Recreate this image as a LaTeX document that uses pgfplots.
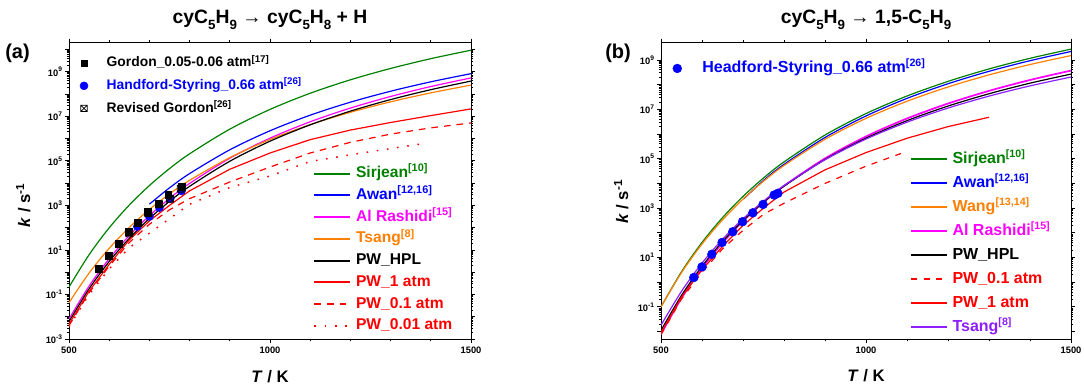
\documentclass[border=0pt]{standalone}
\usepackage{fontspec}
\setmainfont{Liberation Sans}
\usepackage{pgfplots}
\pgfplotsset{compat=1.18}
\definecolor{cgreen}{RGB}{0,128,0}
\definecolor{cblue}{RGB}{0,0,255}
\definecolor{cmag}{RGB}{255,0,255}
\definecolor{corange}{RGB}{255,128,0}
\definecolor{cred}{RGB}{255,0,0}
\definecolor{cpurple}{RGB}{140,30,255}
\newcommand\sub[1]{\raisebox{-0.32em}{\fontsize{10}{10}\selectfont #1}}
\pgfdeclareplotmark{boxx}{%
  \pgfpathrectangle{\pgfpoint{-\pgfplotmarksize}{-\pgfplotmarksize}}{\pgfpoint{2\pgfplotmarksize}{2\pgfplotmarksize}}%
  \pgfpathmoveto{\pgfpoint{-\pgfplotmarksize}{-\pgfplotmarksize}}\pgfpathlineto{\pgfpoint{\pgfplotmarksize}{\pgfplotmarksize}}%
  \pgfpathmoveto{\pgfpoint{-\pgfplotmarksize}{\pgfplotmarksize}}\pgfpathlineto{\pgfpoint{\pgfplotmarksize}{-\pgfplotmarksize}}%
  \pgfusepathqstroke}
\pgfplotsset{
  kinax/.style={
    scale only axis, xmin=500, xmax=1500,
    xtick={500,1000,1500}, xticklabels={500,1000,1500},
    minor xtick={600,700,800,900,1100,1200,1300,1400},
    tick align=outside, major tick length=3pt, minor tick length=1.8pt,
    axis line style={line width=0.7pt},
    every tick/.append style={line width=0.6pt, black},
    tick label style={font=\bfseries\fontsize{7}{8}\selectfont},
    xticklabel style={inner sep=2.5pt},
    yticklabel style={inner sep=1.5pt},
    every axis label/.append style={font=\bfseries\fontsize{12.5}{14}\selectfont},
    title style={font=\bfseries\fontsize{14.5}{17}\selectfont, at={(0.5,1)}, anchor=base, yshift=8.5pt},
    legend cell align=left,
  },
  ovax/.style={scale only axis, xmin=500, xmax=1500, hide axis, legend cell align=left},
  cv/.style={line width=0.9pt, no markers},
}
\begin{document}
\begin{tikzpicture}
%================ panel (a) =================
\begin{axis}[kinax, ymode=log, at={(0pt,0pt)}, anchor=south west, width=301.5pt, height=222.2pt,
  ymin=1e-3, ymax=2e10,
  legend image code/.code={\draw[#1, line width=1.5pt] (0pt,0pt) -- (27pt,0pt);},
  ytick={1e-3,1e-2,1e-1,1,10,100,1e3,1e4,1e5,1e6,1e7,1e8,1e9,1e10},
  yticklabels={10\textsuperscript{-3},{},10\textsuperscript{-1},{},10\textsuperscript{1},{},10\textsuperscript{3},{},10\textsuperscript{5},{},10\textsuperscript{7},{},10\textsuperscript{9},{}},
  title={cyC\sub{5}H\sub{9} → cyC\sub{5}H\sub{8} + H},
  xlabel={\textit{T} / K}, ylabel={\textit{k} / s\textsuperscript{-1}},
  xlabel style={at={(axis description cs:0.5,-0.1485)}, anchor=base},
  ylabel style={at={(axis description cs:-0.097,0.452)}, anchor=base},
  legend style={draw=none, fill=none, at={(0.608,0.587)}, anchor=north west, inner sep=0pt, outer sep=0pt,
    row sep=3.3pt, column sep=3pt,
    nodes={inner sep=0.5pt, text height=9pt, text depth=3pt, font=\bfseries\fontsize{11.7}{13}\selectfont}},
]
\addplot[cv, cgreen, smooth] coordinates {(500,2.16e-1)(550,6.08)(600,98.2)(650,1.03e3)(700,7.76e3)(750,4.46e4)(800,2.06e5)(900,2.64e6)(1000,2.03e7)(1100,1.08e8)(1200,4.33e8)(1300,1.40e9)(1400,3.85e9)(1500,9.23e9)};
\addlegendentry{\textcolor{cgreen}{Sirjean\textsuperscript{[10]}}}
\addplot[cv, cblue, smooth] coordinates {(700,1.13e3)(750,6.10e3)(800,2.67e4)(900,3.12e5)(1000,2.23e6)(1100,1.12e7)(1200,4.28e7)(1300,1.33e8)(1400,3.52e8)(1500,8.18e8)};
\addlegendentry{\textcolor{cblue}{Awan\textsuperscript{[12,16]}}}
\addplot[cv, cmag, smooth] coordinates {(500,7.94e-3)(550,0.237)(600,4.03)(650,44.2)(700,344)(750,2.04e3)(800,9.68e3)(900,1.30e5)(1000,1.04e6)(1100,5.66e6)(1200,2.33e7)(1300,7.73e7)(1400,2.16e8)(1500,5.25e8)};
\addlegendentry{\textcolor{cmag}{Al Rashidi\textsuperscript{[15]}}}
\addplot[cv, corange, smooth] coordinates {(500,4.26e-2)(550,0.914)(600,11.8)(650,103)(700,655)(750,3.27e3)(800,1.33e4)(900,1.39e5)(1000,9.06e5)(1100,4.20e6)(1200,1.51e7)(1300,4.45e7)(1400,1.12e8)(1500,2.51e8)};
\addlegendentry{\textcolor{corange}{Tsang\textsuperscript{[8]}}}
\addplot[cv, black, smooth] coordinates {(500,6.03e-3)(550,0.179)(600,3.02)(650,33.0)(700,256)(750,1.51e3)(800,7.16e3)(900,9.55e4)(1000,7.59e5)(1100,4.13e6)(1200,1.70e7)(1300,5.61e7)(1400,1.56e8)(1500,3.80e8)};
\addlegendentry{PW\_HPL}
\addplot[cv, cred] coordinates {(500,4.68e-3)(550,0.141)(600,2.24)(650,28.2)(700,200)(750,1.00e3)(800,4.47e3)(900,4.17e4)(1000,2.24e5)(1100,8.91e5)(1200,2.40e6)(1300,5.25e6)(1400,1.07e7)(1500,2.14e7)};
\addlegendentry{\textcolor{cred}{PW\_1 atm}}
\addplot[cv, cred, dash pattern=on 5pt off 4.5pt] coordinates {(500,3.98e-3)(550,0.120)(600,1.86)(650,21.4)(700,141)(750,631)(800,2.00e3)(900,1.12e4)(1000,5.25e4)(1100,2.24e5)(1200,6.76e5)(1300,1.58e6)(1400,3.02e6)(1500,5.01e6)};
\addlegendentry{\textcolor{cred}{PW\_0.1 atm}}
\addplot[cv, cred, line width=1.1pt, dash pattern=on 1.2pt off 6.5pt] coordinates {(500,3.55e-3)(550,0.1)(600,1.41)(650,12.6)(700,56.2)(750,251)(800,1.12e3)(900,6.31e3)(1000,2.09e4)(1100,9.33e4)(1200,1.86e5)(1300,3.55e5)(1380,5.89e5)};
\addlegendentry{\textcolor{cred}{PW\_0.01 atm}}
\end{axis}
\node[anchor=base west, font=\bfseries\fontsize{15}{17}\selectfont, inner sep=0pt] at (-48pt,210pt) {(a)};
\begin{axis}[ovax, ymode=log, at={(0pt,0pt)}, anchor=south west, width=301.5pt, height=222.2pt,
  ymin=1e-3, ymax=2e10,
  legend image code/.code={\draw[#1] plot coordinates {(0pt,0pt)};},
  legend style={draw=none, fill=none, at={(0.0274,0.9586)}, anchor=north west, inner sep=0pt, outer sep=0pt,
    row sep=4.4pt, column sep=13.5pt,
    nodes={inner sep=0.5pt, text height=8.5pt, text depth=3pt, font=\bfseries\fontsize{10.4}{12}\selectfont}},
]
\addlegendimage{only marks, mark=square*, mark size=2.1pt, black}
\addlegendentry{Gordon\_0.05-0.06 atm\textsuperscript{[17]}}
\addlegendimage{only marks, mark=*, mark size=3pt, cblue}
\addlegendentry{\textcolor{cblue}{Handford-Styring\_0.66 atm\textsuperscript{[26]}}}
\addlegendimage{only marks, mark=boxx, mark size=2.4pt, black, line width=0.6pt}
\addlegendentry{Revised Gordon\textsuperscript{[26]}}
\addplot[only marks, mark=*, mark size=3pt, cblue, forget plot] coordinates {(670,112)(700,316)(725,794)(752,2.0e3)(780,4.47e3)};
\addplot[only marks, mark=square*, mark size=2.6pt, black, forget plot] coordinates {(573,1.38)(598,5.25)(623,19.5)(648,64.6)(670,170)(695,513)(722,1.20e3)(747,2.88e3)(780,6.76e3)};
\addplot[only marks, mark=boxx, mark size=2.6pt, black, line width=0.6pt, forget plot] coordinates {(650,56.2)(672,158)(697,447)(724,1.12e3)(751,2.00e3)(778,5.62e3)};
\end{axis}
%================ panel (b) =================
\begin{axis}[kinax, ymode=log, at={(444pt,0pt)}, anchor=south west, width=307.5pt, height=222.2pt,
  ymin=5e-3, ymax=5e9,
  legend image code/.code={\draw[#1, line width=1.5pt] (0pt,0pt) -- (27pt,0pt);},
  ytick={1e-2,1e-1,1,10,100,1e3,1e4,1e5,1e6,1e7,1e8,1e9},
  yticklabels={{},10\textsuperscript{-1},{},10\textsuperscript{1},{},10\textsuperscript{3},{},10\textsuperscript{5},{},10\textsuperscript{7},{},10\textsuperscript{9}},
  title={cyC\sub{5}H\sub{9} → 1,5-C\sub{5}H\sub{9}},
  xlabel={\textit{T} / K}, ylabel={\textit{k} / s\textsuperscript{-1}},
  xlabel style={at={(axis description cs:0.5,-0.144)}, anchor=base},
  ylabel style={at={(axis description cs:-0.0805,0.463)}, anchor=base},
  legend style={draw=none, fill=none, at={(0.607,0.637)}, anchor=north west, inner sep=0pt, outer sep=0pt,
    row sep=4.3pt, column sep=3pt,
    nodes={inner sep=0.5pt, text height=9.5pt, text depth=3.2pt, font=\bfseries\fontsize{12}{14}\selectfont}},
]
\addplot[cv, cgreen, smooth] coordinates {(500,0.100)(550,2.65)(600,40.7)(650,411)(700,2.98e3)(750,1.66e4)(800,7.45e4)(900,9.12e5)(1000,6.76e6)(1100,3.48e7)(1200,1.36e8)(1300,4.34e8)(1400,1.17e9)(1500,2.75e9)};
\addlegendentry{\textcolor{cgreen}{Sirjean\textsuperscript{[10]}}}
\addplot[cv, cblue, smooth] coordinates {(702,2.4e3)(750,1.32e4)(800,5.92e4)(900,7.26e5)(1000,5.40e6)(1100,2.79e7)(1200,1.09e8)(1300,3.48e8)(1400,9.35e8)(1500,2.21e9)};
\addlegendentry{\textcolor{cblue}{Awan\textsuperscript{[12,16]}}}
\addplot[cv, corange, smooth] coordinates {(500,0.100)(550,2.44)(600,35.1)(650,334)(700,2.31e3)(750,1.23e4)(800,5.32e4)(900,6.12e5)(1000,4.32e6)(1100,2.13e7)(1200,8.07e7)(1300,2.49e8)(1400,6.55e8)(1500,1.51e9)};
\addlegendentry{\textcolor{corange}{Wang\textsuperscript{[13,14]}}}
\addplot[cv, cmag, smooth, line width=1.3pt] coordinates {(500,7.93e-3)(550,0.226)(600,3.69)(650,39.2)(700,297)(750,1.71e3)(800,7.96e3)(900,1.03e5)(1000,7.98e5)(1100,4.27e6)(1200,1.72e7)(1300,5.61e7)(1400,1.55e8)(1500,3.72e8)};
\addlegendentry{\textcolor{cmag}{Al Rashidi\textsuperscript{[15]}}}
\addplot[cv, black, smooth] coordinates {(500,1.12e-2)(550,0.292)(600,4.42)(650,44.0)(700,315)(750,1.74e3)(800,7.74e3)(900,9.33e4)(1000,6.84e5)(1100,3.49e6)(1200,1.36e7)(1300,4.29e7)(1400,1.15e8)(1500,2.69e8)};
\addlegendentry{PW\_HPL}
\addplot[cv, cred, dash pattern=on 4.5pt off 5pt] coordinates {(500,7.59e-3)(550,0.209)(600,2.51)(650,22.4)(700,126)(750,562)(800,1.58e3)(900,1.0e4)(1000,5.01e4)(1100,2.0e5)};
\addlegendentry{\textcolor{cred}{PW\_0.1 atm}}
\addplot[cv, cred] coordinates {(500,8.91e-3)(550,0.251)(600,3.16)(650,28.2)(700,200)(750,1.00e3)(800,4.47e3)(900,3.55e4)(1000,1.78e5)(1100,6.76e5)(1200,2.00e6)(1300,4.79e6)};
\addlegendentry{\textcolor{cred}{PW\_1 atm}}
\addplot[cv, cpurple, smooth] coordinates {(500,1.82e-2)(550,0.427)(600,5.92)(650,54.7)(700,368)(750,1.92e3)(800,8.17e3)(900,9.10e4)(1000,6.27e5)(1100,3.03e6)(1200,1.13e7)(1300,3.44e7)(1400,8.93e7)(1500,2.04e8)};
\addlegendentry{\textcolor{cpurple}{Tsang\textsuperscript{[8]}}}
\end{axis}
\node[anchor=base west, font=\bfseries\fontsize{15}{17}\selectfont, inner sep=0pt] at (402pt,210pt) {(b)};
\begin{axis}[ovax, ymode=log, at={(444pt,0pt)}, anchor=south west, width=307.5pt, height=222.2pt,
  ymin=5e-3, ymax=5e9,
  legend image code/.code={\draw[#1] plot coordinates {(0pt,0pt)};},
  legend style={draw=none, fill=none, at={(0.029,0.944)}, anchor=north west, inner sep=0pt, outer sep=0pt,
    column sep=15pt,
    nodes={inner sep=0.5pt, text height=9.5pt, text depth=3.2pt, font=\bfseries\fontsize{12}{14}\selectfont}},
]
\addplot[only marks, mark=*, mark size=3.3pt, cblue] coordinates {(580,1.55)(600,4.17)(624,13.5)(649,40.7)(675,110)(699,282)(724,646)(749,1.41e3)(776,3.39e3)(785,3.98e3)};
\addlegendentry{\textcolor{cblue}{Headford-Styring\_0.66 atm\textsuperscript{[26]}}}
\end{axis}
\pgfresetboundingbox
\path[use as bounding box] (-51.75pt,-34.5pt) rectangle (761.25pt,254.25pt);
\end{tikzpicture}
\end{document}
